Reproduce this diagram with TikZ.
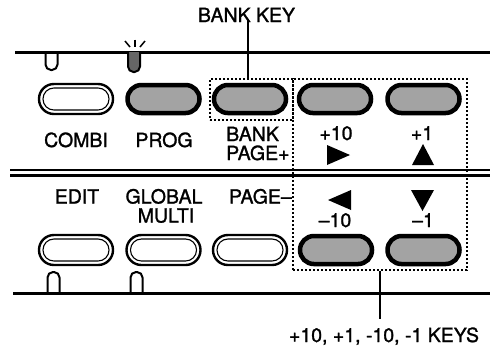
\documentclass[tikz,border=0pt]{standalone}
\usepackage{fontspec}
\setmainfont{TeX Gyre Heros}
\newfontfamily\lblfont{TeX Gyre Heros}[FakeBold=1.3]
\begin{document}
\begin{tikzpicture}[x=1pt,y=-1pt,
  lbl/.style={font=\lblfont\fontsize{19.5}{19.5}\selectfont, inner sep=0pt, anchor=base},
  plainkey/.style={draw, line width=2.4pt, rounded corners=14.9pt, minimum width=74pt, minimum height=30pt, inner sep=0pt,
    path picture={\draw[line width=1.1pt, rounded corners=10.9pt] ([shift={(4pt,4pt)}]path picture bounding box.south west) rectangle ([shift={(-4pt,-4pt)}]path picture bounding box.north east);}},
  darkkey/.style={draw, line width=4.5pt, fill=black!36, rounded corners=13.9pt, minimum width=72pt, minimum height=28pt, inner sep=0pt},
  dbox/.style={draw, line width=1.3pt, dash pattern=on 2.4pt off 1.6pt, inner sep=0pt},
  panel/.style={line width=3pt},
  leader/.style={line width=1.3pt},
  ledline/.style={line width=2pt, rounded corners=5.5pt},
  ray/.style={line width=1.5pt}
]
\useasboundingbox (0,0) rectangle (494,349);

% panel lines
\draw[panel] (15,52) -- (490,52);
\draw[line width=2.5pt] (10,170) -- (490,170);
\draw[line width=2.5pt] (10,175.5) -- (490,175.5);
\draw[panel] (13,293) -- (490,293);

% LEDs
\draw[ledline] (45.5,52) -- (45.5,70) -- (57.5,70) -- (57.5,52);
\draw[ledline, fill=black!60] (128,52) -- (128,72) -- (140,72) -- (140,52);
\draw[ray] (125,41) -- (130,47);
\draw[ray] (135,39.5) -- (135,47);
\draw[ray] (145,41) -- (140,47);
\draw[ledline] (47.5,293) -- (47.5,272) -- (59.5,272) -- (59.5,293);
\draw[ledline] (130.5,293) -- (130.5,272) -- (142.5,272) -- (142.5,293);

% dashed boxes
\node[dbox, minimum width=83pt, minimum height=41pt] (bankbox) at (251.5,99.5) {};
\node[dbox, minimum width=174pt, minimum height=191pt] (keysbox) at (380,174.5) {};

% keys top row
\node[plainkey] (combi) at (76,99) {};
\node[darkkey] (prog) at (163.5,99) {};
\node[darkkey] (bank) at (250,99) {};
\node[darkkey] (plusten) at (335,99) {};
\node[darkkey] (plusone) at (423.5,99) {};
% keys bottom row
\node[plainkey] (edit) at (76,250) {};
\node[plainkey] (global) at (163.5,250) {};
\node[plainkey] (pageminus) at (250,250) {};
\node[darkkey] (minusten) at (336,250) {};
\node[darkkey] (minusone) at (423.5,250) {};

% labels top
\node[lbl] (tcombi) at (76,147) {COMBI};
\node[lbl] (tprog) at (164,147) {PROG};
\node[lbl, anchor=base west] (tbank) at (226,141) {BANK};
\node[lbl, anchor=base west] (tpageplus) at (226,160) {PAGE+};
\node[lbl] (tplusten) at (336,140) {+10};
\node[lbl] (tplusone) at (422,140) {+1};
\fill (327,145) -- (350,155) -- (327,165) -- cycle;
\fill (412,165) -- (434,165) -- (423,144) -- cycle;

% labels bottom
\node[lbl] (tedit) at (77,203.5) {EDIT};
\node[lbl] (tglobal) at (164,203.5) {GLOBAL};
\node[lbl] (tmulti) at (166,222.5) {MULTI};
\node[lbl, anchor=base east] (tpageminus) at (292,203.5) {PAGE–};
\fill (351,190) -- (351,210) -- (328,200) -- cycle;
\fill (411,190) -- (434,190) -- (422.5,211) -- cycle;
\node[lbl] (tminusten) at (335,227) {–10};
\node[lbl] (tminusone) at (423,227) {–1};

% callouts
\node[lbl] (bankkey) at (246.5,22) {BANK KEY};
\coordinate (bkend) at (248,19);
\draw[leader] (bkend) -- (bkend |- bankbox.north);
\node[lbl] (keyslbl) at (384,342) {+10, +1, -10, -1 KEYS};
\coordinate (kkend) at (380,319);
\draw[leader] (keysbox.south) -- (kkend);
\end{tikzpicture}
\end{document}
